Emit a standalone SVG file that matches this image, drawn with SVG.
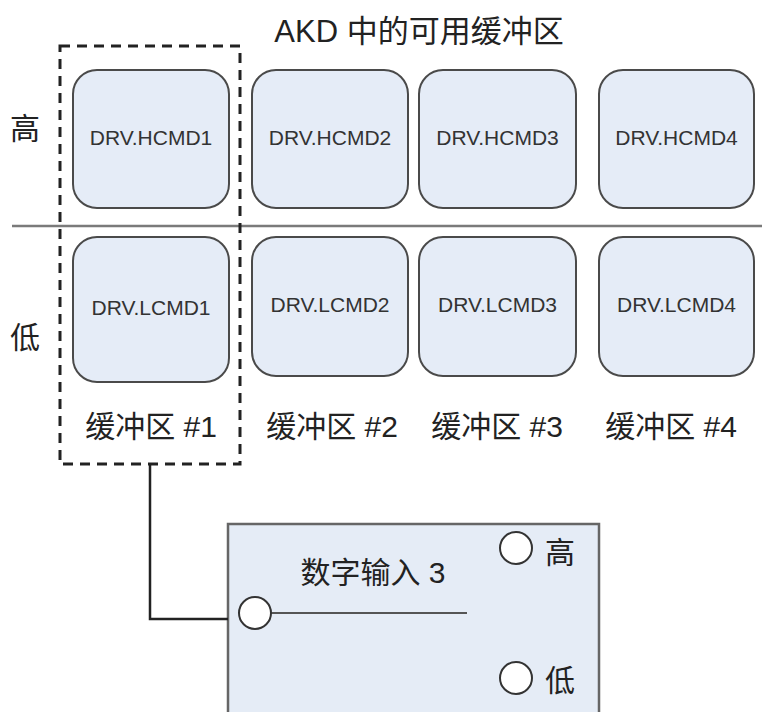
<svg xmlns="http://www.w3.org/2000/svg" width="762" height="712" viewBox="0 0 762 712">
<style>
text{font-family:"Liberation Sans","Noto Sans CJK SC",sans-serif;fill:#222}
.buf rect{fill:#e5ecf7;stroke:#4a4a4a;stroke-width:2}
.buf text{font-size:21px;fill:#333;text-anchor:middle}
.big{font-size:30px}
.mid{text-anchor:middle}
.conn{fill:none;stroke:#222;stroke-width:2.5}
.port{fill:#fff;stroke:#333;stroke-width:2}
</style>
<rect width="762" height="712" fill="#fff"/>
<text class="mid" x="419" y="42" font-size="31">AKD 中的可用缓冲区</text>
<text class="big" x="10" y="139">高</text>
<text class="big" x="10" y="348">低</text>
<line x1="12" y1="226" x2="762" y2="226" stroke="#7a7a7a" stroke-width="2.5"/>

<g id="hcmd1" class="buf"><rect x="73" y="70" width="156" height="138" rx="24"/><text x="151" y="145">DRV.HCMD1</text></g>
<g id="hcmd2" class="buf"><rect x="252" y="70" width="156" height="138" rx="24"/><text x="330" y="145">DRV.HCMD2</text></g>
<g id="hcmd3" class="buf"><rect x="419" y="70" width="157" height="138" rx="24"/><text x="497.5" y="145">DRV.HCMD3</text></g>
<g id="hcmd4" class="buf"><rect x="599" y="70" width="155" height="138" rx="24"/><text x="676.5" y="145">DRV.HCMD4</text></g>

<g id="lcmd1" class="buf"><rect x="73" y="237" width="156" height="145" rx="24"/><text x="151" y="315">DRV.LCMD1</text></g>
<g id="lcmd2" class="buf"><rect x="252" y="237" width="156" height="139" rx="24"/><text x="330" y="312">DRV.LCMD2</text></g>
<g id="lcmd3" class="buf"><rect x="419" y="237" width="157" height="139" rx="24"/><text x="497.5" y="312">DRV.LCMD3</text></g>
<g id="lcmd4" class="buf"><rect x="599" y="237" width="155" height="139" rx="24"/><text x="676.5" y="312">DRV.LCMD4</text></g>

<g id="labels">
<text class="big mid" x="151" y="437">缓冲区 #1</text>
<text class="big mid" x="332" y="437">缓冲区 #2</text>
<text class="big mid" x="497" y="437">缓冲区 #3</text>
<text class="big mid" x="671" y="437">缓冲区 #4</text>
</g>

<g id="buffer1-group">
<rect x="60" y="46" width="180" height="418" fill="none" stroke="#222" stroke-width="3" stroke-dasharray="10,7"/>
</g>

<g id="digital-input-3">
<rect x="228" y="524" width="371" height="200" fill="#e5ecf6" stroke="#666" stroke-width="2.5"/>
<text class="big mid" x="373" y="583">数字输入 3</text>
<line x1="255" y1="613" x2="467" y2="613" stroke="#555" stroke-width="2"/>
<circle class="port" cx="255" cy="613" r="16"/>
<circle class="port" cx="516" cy="548" r="16"/>
<circle class="port" cx="516" cy="678" r="16"/>
<text class="big" x="545" y="563">高</text>
<text class="big" x="545" y="691">低</text>
</g>

<g id="connectors">
<polyline class="conn" points="150,464 150,619 228,619"/>
</g>
</svg>
